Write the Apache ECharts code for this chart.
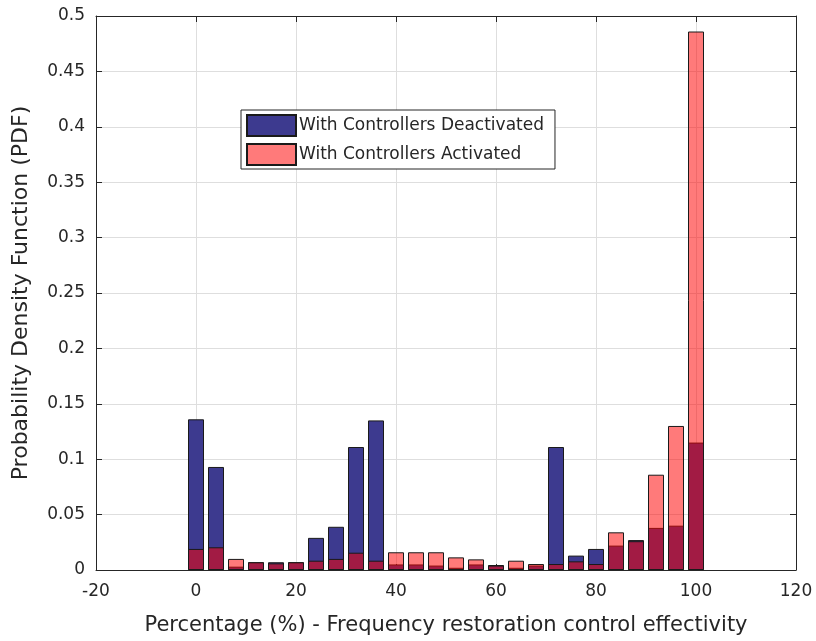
<!DOCTYPE html>
<html>
<head>
<meta charset="utf-8">
<script src="https://cdn.jsdelivr.net/npm/echarts@6/dist/echarts.min.js"></script>
<style>
  html, body { margin: 0; padding: 0; background: #fff; }
  #chart { width: 816px; height: 641px; }
</style>
</head>
<body>
<div id="chart"></div>
<script>
// bin centres (%)
var binCenters = [0, 4, 8, 12, 16, 20, 24, 28, 32, 36, 40, 44, 48, 52, 56, 60, 64, 68, 72, 76, 80, 84, 88, 92, 96, 100];
// PDF per bin
var deactivated = [0.136, 0.093, 0.003, 0.007, 0.007, 0.007, 0.029, 0.039, 0.111, 0.135, 0.005, 0.005, 0.004, 0.002, 0.005, 0.0045, 0.002, 0.004, 0.111, 0.013, 0.019, 0.022, 0.027, 0.038, 0.040, 0.115];
var activated = [0.019, 0.0205, 0.010, 0.007, 0.006, 0.007, 0.0084, 0.010, 0.0156, 0.0084, 0.016, 0.016, 0.016, 0.0114, 0.0096, 0.004, 0.0084, 0.0054, 0.0054, 0.0078, 0.0054, 0.034, 0.026, 0.086, 0.130, 0.486];

var axisColor = "#262626";
var font = "DejaVu Sans, sans-serif";

function pairs(vals) {
  return binCenters.map(function (x, i) {
    return [x, vals[i]];
  });
}

var chart = echarts.init(document.getElementById("chart"));

chart.setOption({
  animation: false,
  textStyle: { fontFamily: font },
  grid: {
    left: 96,
    right: 20,
    top: 16,
    bottom: 71
  },
  legend: {
    orient: "vertical",
    left: 241,
    top: 110,
    itemWidth: 49,
    itemHeight: 21,
    itemGap: 6,
    padding: [4, 11, 3, 5],
    backgroundColor: "#fff",
    borderColor: axisColor,
    borderWidth: 1,
    textStyle: { color: axisColor, fontSize: 17, fontFamily: font, padding: [0, 0, 0, -2] },
    data: [
      { name: "With Controllers Deactivated", icon: "rect" },
      { name: "With Controllers Activated", icon: "rect" }
    ]
  },
  xAxis: [
    {
      type: "value",
      min: -20,
      max: 120,
      interval: 20,
      position: "bottom",
      name: "Percentage (%) - Frequency restoration control effectivity",
      nameLocation: "middle",
      nameGap: 45,
      nameTextStyle: { color: axisColor, fontSize: 21, fontFamily: font },
      axisLine: { onZero: false, lineStyle: { color: axisColor, width: 1 } },
      axisTick: { inside: true, length: 6, lineStyle: { color: axisColor } },
      axisLabel: { color: axisColor, fontSize: 17, margin: 13 },
      splitLine: { show: true, lineStyle: { color: "#dedede", width: 1 } }
    },
    {
      type: "value",
      min: -20,
      max: 120,
      interval: 20,
      position: "top",
      axisLine: { onZero: false, lineStyle: { color: axisColor, width: 1 } },
      axisTick: { inside: true, length: 6, lineStyle: { color: axisColor } },
      axisLabel: { show: false },
      splitLine: { show: false }
    }
  ],
  yAxis: [
    {
      type: "value",
      min: 0,
      max: 0.5,
      interval: 0.05,
      position: "left",
      name: "Probability Density Function (PDF)",
      nameLocation: "middle",
      nameGap: 64,
      nameTextStyle: { color: axisColor, fontSize: 22, fontFamily: font },
      axisLine: { show: true, onZero: false, lineStyle: { color: axisColor, width: 1 } },
      axisTick: { show: true, inside: true, length: 6, lineStyle: { color: axisColor } },
      axisLabel: { color: axisColor, fontSize: 17, margin: 11 },
      splitLine: { show: true, lineStyle: { color: "#dedede", width: 1 } }
    },
    {
      type: "value",
      min: 0,
      max: 0.5,
      interval: 0.05,
      position: "right",
      axisLine: { show: true, onZero: false, lineStyle: { color: axisColor, width: 1 } },
      axisTick: { show: true, inside: true, length: 6, lineStyle: { color: axisColor } },
      axisLabel: { show: false },
      splitLine: { show: false }
    }
  ],
  series: [
    {
      name: "With Controllers Deactivated",
      type: "bar",
      data: pairs(deactivated),
      barWidth: 16,
      barGap: "-100%",
      itemStyle: {
        color: "#3d3a8f",
        borderColor: "#1a1a1a",
        borderWidth: 1
      }
    },
    {
      name: "With Controllers Activated",
      type: "bar",
      data: pairs(activated),
      barWidth: 16,
      barGap: "-100%",
      z: 3,
      itemStyle: {
        color: "rgba(255, 0, 0, 0.52)",
        borderColor: "#1a1a1a",
        borderWidth: 1
      }
    }
  ]
});
</script>
</body>
</html>
